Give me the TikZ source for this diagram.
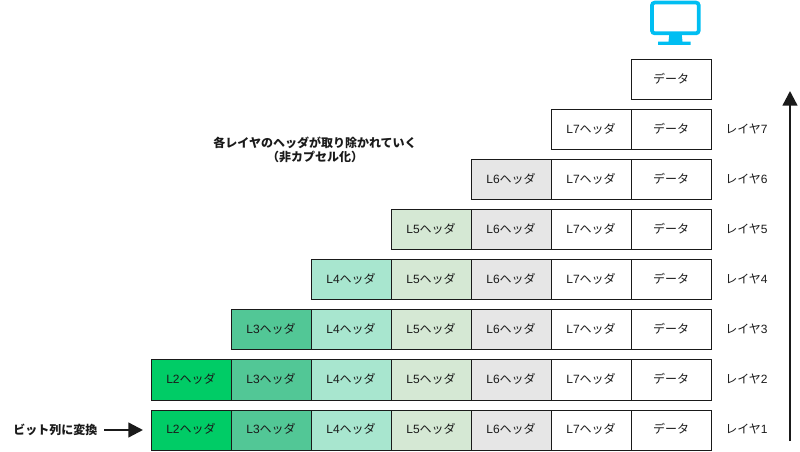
\documentclass[tikz,border=0pt]{standalone}
\usepackage{fontspec}
\usepackage{xcolor}
\usetikzlibrary{arrows.meta,positioning}
\setmainfont{Noto Sans CJK JP}
\newfontfamily\latinfont{Liberation Sans}
\definecolor{monitorblue}{HTML}{00BEF2}
\definecolor{ltwofill}{HTML}{00CC66}
\definecolor{lthreefill}{HTML}{52C796}
\definecolor{lfourfill}{HTML}{A8E6CF}
\definecolor{lfivefill}{HTML}{D5E8D4}
\definecolor{lsixfill}{HTML}{E6E6E6}
\definecolor{inkdark}{HTML}{1A1A1A}
\newcommand{\hdr}[1]{{\latinfont L#1}ヘッダ}
\newcommand{\lyr}[1]{レイヤ{\latinfont #1}}

\begin{document}
\begin{tikzpicture}[
            x=0.75pt, y=-0.75pt,
            node distance=7.5pt,
            box/.style={rectangle, draw=inkdark, line width=0.75pt, outer sep=0pt, minimum width=60pt, minimum height=30pt, inner sep=0pt, text height=8pt, text depth=2.6pt, text=inkdark, font=\fontsize{9}{11}\selectfont},
            ltwo/.style={box, fill=ltwofill},
            lthree/.style={box, fill=lthreefill},
            lfour/.style={box, fill=lfourfill},
            lfive/.style={box, fill=lfivefill},
            lsix/.style={box, fill=lsixfill},
            lseven/.style={box, fill=white},
            databox/.style={box, fill=white},
            layerlabel/.style={inner sep=0pt, text height=8pt, text depth=2.6pt, text=inkdark, font=\fontsize{9}{11}\selectfont},
            note/.style={inner sep=0pt, align=center, text=inkdark, font=\fontsize{9}{11}\selectfont\bfseries},
            arrow/.style={-{Triangle[length=11pt, width=11pt]}, line width=1.75pt, draw=inkdark}
        ]
        \useasboundingbox (0,0) rectangle (800,452);

        % Monitor
        \draw[monitorblue, line width=2.8pt, rounded corners=2pt] (652,2.6) rectangle (698.7,33.3);
        \fill[monitorblue] (669.3,34) -- (681.7,34) -- (682.5,41.7) -- (690.7,41.7) -- (690.7,45) -- (658,45) -- (658,41.7) -- (668.5,41.7) -- cycle;

        % Top
        \node[databox] at (671,80) (data0) {データ};

        % Layer 7
        \node[databox, below=of data0] (data7) {データ};
        \node[lseven, left=0pt of data7] (l7r7) {\hdr{7}};
        \node[layerlabel, right=10.5pt of data7.east] (lab7) {\lyr{7}};

        % Layer 6
        \node[databox, below=7.125pt of data7] (data6) {データ};
        \node[lseven, left=0pt of data6] (l7r6) {\hdr{7}};
        \node[lsix, left=0pt of l7r6] (l6r6) {\hdr{6}};
        \node[layerlabel, right=10.5pt of data6.east] (lab6) {\lyr{6}};

        % Layer 5
        \node[databox, below=7.875pt of data6] (data5) {データ};
        \node[lseven, left=0pt of data5] (l7r5) {\hdr{7}};
        \node[lsix, left=0pt of l7r5] (l6r5) {\hdr{6}};
        \node[lfive, left=0pt of l6r5] (l5r5) {\hdr{5}};
        \node[layerlabel, right=10.5pt of data5.east] (lab5) {\lyr{5}};

        % Layer 4
        \node[databox, below=of data5] (data4) {データ};
        \node[lseven, left=0pt of data4] (l7r4) {\hdr{7}};
        \node[lsix, left=0pt of l7r4] (l6r4) {\hdr{6}};
        \node[lfive, left=0pt of l6r4] (l5r4) {\hdr{5}};
        \node[lfour, left=0pt of l5r4] (l4r4) {\hdr{4}};
        \node[layerlabel, right=10.5pt of data4.east] (lab4) {\lyr{4}};

        % Layer 3
        \node[databox, below=of data4] (data3) {データ};
        \node[lseven, left=0pt of data3] (l7r3) {\hdr{7}};
        \node[lsix, left=0pt of l7r3] (l6r3) {\hdr{6}};
        \node[lfive, left=0pt of l6r3] (l5r3) {\hdr{5}};
        \node[lfour, left=0pt of l5r3] (l4r3) {\hdr{4}};
        \node[lthree, left=0pt of l4r3] (l3r3) {\hdr{3}};
        \node[layerlabel, right=10.5pt of data3.east] (lab3) {\lyr{3}};

        % Layer 2
        \node[databox, below=of data3] (data2) {データ};
        \node[lseven, left=0pt of data2] (l7r2) {\hdr{7}};
        \node[lsix, left=0pt of l7r2] (l6r2) {\hdr{6}};
        \node[lfive, left=0pt of l6r2] (l5r2) {\hdr{5}};
        \node[lfour, left=0pt of l5r2] (l4r2) {\hdr{4}};
        \node[lthree, left=0pt of l4r2] (l3r2) {\hdr{3}};
        \node[ltwo, left=0pt of l3r2] (l2r2) {\hdr{2}};
        \node[layerlabel, right=10.5pt of data2.east] (lab2) {\lyr{2}};

        % Layer 1
        \node[databox, below=of data2] (data1) {データ};
        \node[lseven, left=0pt of data1] (l7r1) {\hdr{7}};
        \node[lsix, left=0pt of l7r1] (l6r1) {\hdr{6}};
        \node[lfive, left=0pt of l6r1] (l5r1) {\hdr{5}};
        \node[lfour, left=0pt of l5r1] (l4r1) {\hdr{4}};
        \node[lthree, left=0pt of l4r1] (l3r1) {\hdr{3}};
        \node[ltwo, left=0pt of l3r1] (l2r1) {\hdr{2}};
        \node[layerlabel, right=10.5pt of data1.east] (lab1) {\lyr{1}};

        % Labels
        \node[note] at (315,150) (decap) {各レイヤのヘッダが取り除かれていく\\（非カプセル化）};
        \node[note] at (55.5,430) (bits) {ビット列に変換};

        % Arrows
        \coordinate (upstart) at (790,441);
        \coordinate (upend) at (790,91);
        \draw[arrow] (upstart) -- (upend);
        \draw[arrow, shorten <=5pt, shorten >=6pt] (bits) -- (l2r1);

        \end{tikzpicture}
\end{document}
